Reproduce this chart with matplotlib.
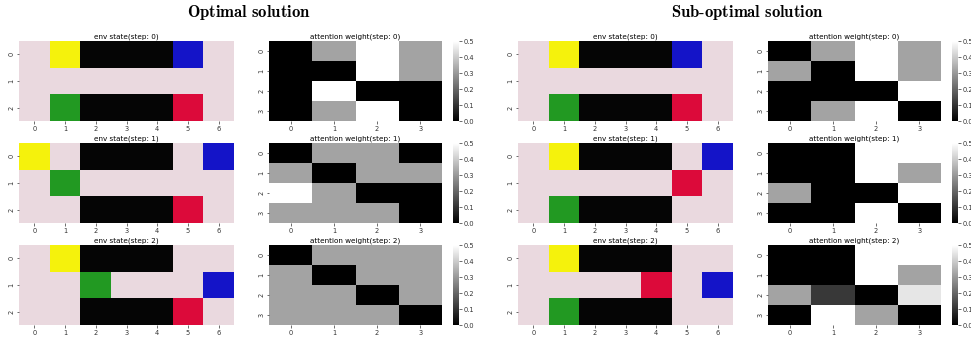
import numpy as np
import matplotlib
matplotlib.use("Agg")
import matplotlib.pyplot as plt
from matplotlib.colors import ListedColormap, BoundaryNorm

plt.rcParams['mathtext.fontset'] = 'cm'

# ---- data ----
# env cell codes: 0 empty, 1 wall, 2 yellow, 3 blue, 4 green, 5 red
env_colors = ['#ead9df', '#050505', '#f5f20c', '#1414c8', '#229922', '#dc0a3a']
group_titles = [r'$\mathbf{Optimal\ solution}$', r'$\mathbf{Sub\text{-}optimal\ solution}$']
steps = [0, 1, 2]

env_optimal = [
    [[0, 2, 1, 1, 1, 3, 0],
     [0, 0, 0, 0, 0, 0, 0],
     [0, 4, 1, 1, 1, 5, 0]],
    [[2, 0, 1, 1, 1, 0, 3],
     [0, 4, 0, 0, 0, 0, 0],
     [0, 0, 1, 1, 1, 5, 0]],
    [[0, 2, 1, 1, 1, 0, 0],
     [0, 0, 4, 0, 0, 0, 3],
     [0, 0, 1, 1, 1, 5, 0]],
]
env_suboptimal = [
    [[0, 2, 1, 1, 1, 3, 0],
     [0, 0, 0, 0, 0, 0, 0],
     [0, 4, 1, 1, 1, 5, 0]],
    [[0, 2, 1, 1, 1, 0, 3],
     [0, 0, 0, 0, 0, 5, 0],
     [0, 4, 1, 1, 1, 0, 0]],
    [[0, 2, 1, 1, 1, 0, 0],
     [0, 0, 0, 0, 5, 0, 3],
     [0, 4, 1, 1, 1, 0, 0]],
]

g = 0.32
attn_optimal = [
    [[0, g, 0.5, g],
     [0, 0, 0.5, g],
     [0, 0.5, 0, 0],
     [0, g, 0.5, 0]],
    [[0, g, g, 0],
     [g, 0, g, g],
     [0.5, g, 0, 0],
     [g, g, g, 0]],
    [[0, g, g, g],
     [g, 0, g, g],
     [g, g, 0, g],
     [g, g, g, 0]],
]
attn_suboptimal = [
    [[0, g, 0.5, g],
     [g, 0, 0.5, g],
     [0, 0, 0, 0.5],
     [0, g, 0.5, 0]],
    [[0, 0, 0.5, 0.5],
     [0, 0, 0.5, g],
     [g, 0, 0, 0.5],
     [0, 0, 0.5, 0]],
    [[0, 0, 0.5, 0.5],
     [0, 0, 0.5, g],
     [g, 0.11, 0, 0.45],
     [0, 0.5, g, 0]],
]

envs = [env_optimal, env_suboptimal]
attns = [attn_optimal, attn_suboptimal]

# ---- layout ----
W, H = 971, 337
fig = plt.figure(figsize=(W / 100, H / 100), dpi=100)

def fr(x0, x1, top, bot):
    return [x0 / W, (H - bot) / H, (x1 - x0) / W, (bot - top) / H]

group_x = [dict(env=(19, 234), att=(269, 442), cb=(453, 459), title=249),
           dict(env=(518, 733), att=(768, 941), cb=(952, 958), title=747)]
row_y = [(41, 121), (143, 223), (245, 325)]

env_cmap = ListedColormap(env_colors)
env_norm = BoundaryNorm(np.arange(-0.5, len(env_colors) + 0.5), env_cmap.N)

tick_fs = 4.8
title_fs = 5.2

def style(ax, nx, ny):
    ax.set_xlim(0, nx)
    ax.set_ylim(ny, 0)
    ax.set_xticks(np.arange(nx) + 0.5)
    ax.set_xticklabels([str(i) for i in range(nx)], fontsize=tick_fs, color='#333333')
    ax.set_yticks(np.arange(ny) + 0.5)
    ax.set_yticklabels([str(i) for i in range(ny)], fontsize=tick_fs, rotation=90,
                       va='center', color='#333333')
    ax.tick_params(length=1.8, width=0.5, pad=1.5, color='#333333')
    for s in ax.spines.values():
        s.set_visible(False)

for gi in range(2):
    gx = group_x[gi]
    fig.text(gx['title'] / W, 1 - 13 / H, group_titles[gi],
             ha='center', va='center', fontsize=12)
    for ri, st in enumerate(steps):
        top, bot = row_y[ri]
        ax = fig.add_axes(fr(*gx['env'], top, bot))
        e = np.array(envs[gi][ri])
        ax.pcolormesh(e, cmap=env_cmap, norm=env_norm)
        style(ax, e.shape[1], e.shape[0])
        ax.set_title(f'env state(step: {st})', fontsize=title_fs, pad=1.8)

        ax2 = fig.add_axes(fr(*gx['att'], top, bot))
        a = np.array(attns[gi][ri])
        m = ax2.pcolormesh(a, cmap='gray', vmin=0, vmax=0.5)
        style(ax2, a.shape[1], a.shape[0])
        ax2.set_title(f'attention weight(step: {st})', fontsize=title_fs, pad=1.8)

        cax = fig.add_axes(fr(*gx['cb'], top, bot))
        cb = fig.colorbar(m, cax=cax)
        cb.outline.set_visible(False)
        cb.set_ticks([0, 0.1, 0.2, 0.3, 0.4, 0.5])
        cb.ax.tick_params(labelsize=tick_fs, length=1.8, width=0.5, pad=1.2,
                          colors='#333333')

fig.savefig('out.png', dpi=100)
